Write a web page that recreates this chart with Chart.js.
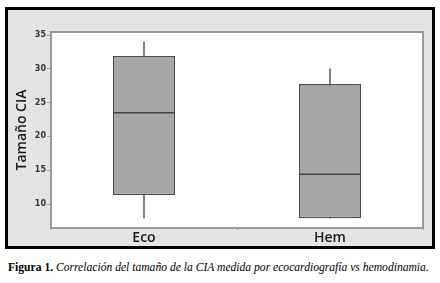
<!DOCTYPE html>
<html>
<head>
<meta charset="utf-8">
<script src="https://cdn.jsdelivr.net/npm/chart.js@4/dist/chart.umd.min.js"></script>
<style>
  html,body{margin:0;padding:0;background:#fff;}
  body{width:440px;height:283px;position:relative;overflow:hidden;}
  #frame{position:absolute;left:5px;top:7px;width:424px;height:236px;border:3px solid #000;background:#e4e4e4;}
  #frame canvas{display:block;}
  #cap{position:absolute;left:8px;top:261px;width:432px;font-family:"Liberation Serif","Times New Roman",serif;font-size:11.6px;color:#000;white-space:nowrap;}
  #cap b{font-weight:bold;}
  #cap i{font-style:italic;}
</style>
</head>
<body>
<div id="frame"><canvas id="c" width="424" height="236"></canvas></div>
<div id="cap"><b>Figura 1.</b> <i>Correlación del tamaño de la CIA medida por ecocardiografía vs hemodinamia.</i></div>
<script>
// Data
const categories = ["Eco", "Hem"];
const whiskerLow  = [7.9, 7.9];
const q1          = [11.3, 7.9];
const medians     = [23.5, 14.4];
const q3          = [31.9, 27.75];
const whiskerHigh = [34.0, 30.0];
const yTicks = [10, 15, 20, 25, 30, 35];
const yTitle = "Tamaño CIA";

const boxData = categories.map((c, i) => [q1[i], q3[i]]);
const whiskerData = categories.map((c, i) => [whiskerLow[i], whiskerHigh[i]]);

const plotFrame = {
  id: 'plotFrame',
  beforeDraw(chart) {
    const a = chart.chartArea, ctx = chart.ctx;
    ctx.save();
    ctx.fillStyle = '#ffffff';
    ctx.fillRect(a.left, a.top, a.right - a.left, a.bottom - a.top);
    ctx.restore();
  },
  afterDraw(chart) {
    const a = chart.chartArea, ctx = chart.ctx;
    ctx.save();
    ctx.strokeStyle = '#9a9a9a';
    ctx.lineWidth = 2;
    ctx.strokeRect(a.left, a.top, a.right - a.left, a.bottom - a.top);
    ctx.restore();
  }
};

const medianPlugin = {
  id: 'medianLines',
  afterDatasetsDraw(chart) {
    const meta = chart.getDatasetMeta(1);
    const y = chart.scales.y, ctx = chart.ctx;
    ctx.save();
    ctx.strokeStyle = '#444444';
    ctx.lineWidth = 1.6;
    meta.data.forEach((bar, i) => {
      const half = bar.width / 2;
      const py = y.getPixelForValue(medians[i]);
      ctx.beginPath();
      ctx.moveTo(bar.x - half, py);
      ctx.lineTo(bar.x + half, py);
      ctx.stroke();
    });
    ctx.restore();
  }
};

new Chart(document.getElementById('c'), {
  type: 'bar',
  data: {
    labels: categories,
    datasets: [
      {
        label: 'whisker',
        data: whiskerData,
        backgroundColor: '#7a7a7a',
        borderWidth: 0,
        barThickness: 1.2,
        grouped: false,
        order: 2
      },
      {
        label: 'box',
        data: boxData,
        backgroundColor: '#a7a7a7',
        borderColor: '#4f4f4f',
        borderWidth: 1.5,
        borderSkipped: false,
        categoryPercentage: 1,
        barPercentage: 1/3,
        grouped: false,
        order: 1
      }
    ]
  },
  options: {
    responsive: false,
    animation: false,
    devicePixelRatio: 1,
    layout: { padding: { left: 0, right: 9, top: 22, bottom: 0 } },
    plugins: { legend: { display: false }, tooltip: { enabled: false } },
    scales: {
      x: {
        offset: true,
        grid: { display: true, drawOnChartArea: false, drawTicks: true, tickLength: 2, color: '#9a9a9a' },
        border: { display: false },
        ticks: { color: '#1a1a1a', font: { family: '"Open Sans", sans-serif', size: 14, weight: '600' }, padding: 0 },
        afterFit(s) { s.height = 18; }
      },
      y: {
        min: 6.45,
        max: 35.45,
        afterBuildTicks(s) { s.ticks = yTicks.map(v => ({ value: v })); },
        grid: { display: true, drawOnChartArea: false, drawTicks: true, tickLength: 4, color: '#9a9a9a' },
        border: { display: false },
        ticks: { color: '#333', font: { family: '"DejaVu Sans", sans-serif', size: 8, weight: 'bold' }, padding: 1 },
        title: { display: true, text: yTitle, color: '#1a1a1a', font: { family: '"Open Sans", sans-serif', size: 14, weight: '600' }, padding: { top: 6, bottom: 2 } },
        afterFit(s) { s.width = 43; }
      }
    }
  },
  plugins: [plotFrame, medianPlugin]
});
</script>
</body>
</html>
